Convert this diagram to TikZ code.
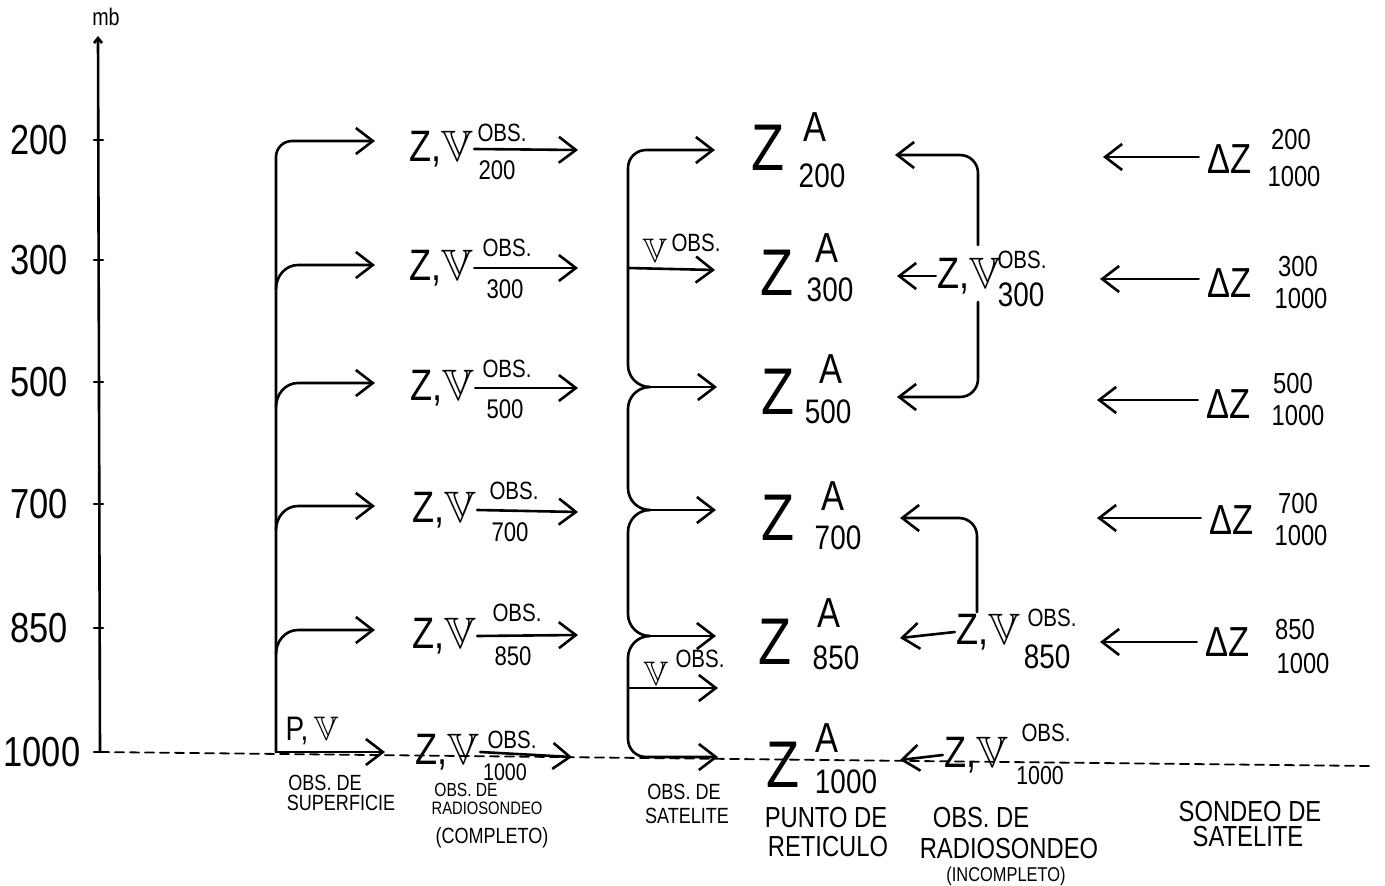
\documentclass[tikz,border=0pt]{standalone}
\usepackage{amssymb}
\usepackage{fontspec}
\setmainfont{Liberation Sans}[FakeStretch=0.82]
\usetikzlibrary{arrows.meta}
\newcommand\fs[1]{\fontsize{#1}{#1}\selectfont}
\newcommand\VV{$\mathbb{V}$}
\begin{document}
\begin{tikzpicture}[x=1pt,y=-1pt,line width=2.6pt,line cap=round,line join=round,
  >={Straight Barb[length=17pt,width=26pt]},
  t/.style={inner sep=0pt,anchor=center},
  axl/.style={t,font=\fs{42}},
  zv/.style={t,font=\fs{44}},
  obs/.style={t,font=\fs{25}},
  sub/.style={t,font=\fs{27}},
  bigz/.style={t,font=\fs{66}},
  supa/.style={t,font=\fs{42}},
  subn/.style={t,font=\fs{34}},
  dz/.style={t,font=\fs{42}},
  dzn/.style={t,font=\fs{29}},
  captxt/.style={t,font=\fs{22}},
  capbig/.style={t,font=\fs{29}}]
\useasboundingbox (0,0) rectangle (1385,886);

% ---------- axis ----------
\node[t,font=\fs{24}] (mb) at (106,17) {mb};
\coordinate (axtop) at (98,36);
\coordinate (axbot) at (100,752);
\draw[-{Straight Barb[length=5pt,width=8pt]}] (axbot) -- (axtop);
\foreach \yy in {140,260,382,504,628,752} \draw (94,\yy) -- (103,\yy);
\node[axl] (l200) at (39,140) {200};
\node[axl] (l300) at (39,260) {300};
\node[axl] (l500) at (39,382) {500};
\node[axl] (l700) at (39,504) {700};
\node[axl] (l850) at (39,628) {850};
\node[axl] (l1000) at (42,752) {1000};

% ---------- 1000 mb dashed line ----------
\coordinate (dashend) at (1370,766);
\draw[line width=1.8pt,dash pattern=on 9pt off 6pt] (axbot) -- (dashend);

% ---------- surface observations ----------
\coordinate (s200) at (375,141);
\coordinate (s300) at (375,265);
\coordinate (s500) at (375,383);
\coordinate (s700) at (375,506);
\coordinate (s850) at (375,630);
\coordinate (s1000) at (385,752);
\coordinate (sbot) at (276,752);
\draw[->,rounded corners=16pt] (sbot) -- (276,141) -- (s200);
\draw[->] (sbot) -- (s1000);
\foreach \c/\yy in {s300/265,s500/383,s700/506,s850/630}
  \draw[->] (276,\yy+24) to[out=90,in=180] (298,\yy) -- (\c);
\node[t,font=\fs{34}] (pv) at (312,731) {P,\,\VV};
\node[captxt] (cs1) at (325,783) {OBS. DE};
\node[captxt] (cs2) at (341,803) {SUPERFICIE};

% ---------- complete radiosonde ----------
\node[zv] (zv200) at (441,149) {Z,\VV};
\node[obs] (ob200) at (502,133) {OBS.};
\node[sub] (n200) at (497,170) {200};
\coordinate (r200) at (578,150);
\draw[->] (zv200.east) -- (r200);

\node[zv] (zv300) at (441,268) {Z,\VV};
\node[obs] (ob300) at (507,248) {OBS.};
\node[sub] (n300) at (505,289) {300};
\coordinate (r300) at (578,268);
\draw[->] (zv300.east) -- (r300);

\node[zv] (zv500) at (442,388) {Z,\VV};
\node[obs] (ob500) at (507,369) {OBS.};
\node[sub] (n500) at (505,409) {500};
\coordinate (r500) at (578,388);
\draw[->] (zv500.east) -- (r500);

\node[zv] (zv700) at (444,510) {Z,\VV};
\node[obs] (ob700) at (514,491) {OBS.};
\node[sub] (n700) at (510,532) {700};
\coordinate (r700) at (578,512);
\draw[->] (zv700.east) -- (r700);

\node[zv] (zv850) at (444,636) {Z,\VV};
\node[obs] (ob850) at (517,613) {OBS.};
\node[sub] (n850) at (513,656) {850};
\coordinate (r850) at (578,635);
\draw[->] (zv850.east) -- (r850);

\node[zv] (zv1000) at (447,752) {Z,\VV};
\node[obs] (ob1000) at (512,740) {OBS.};
\node[t,font=\fs{24}] (n1000) at (505,772) {1000};
\coordinate (r1000) at (572,757);
\draw[->] (zv1000.east) -- (r1000);
\node[t,font=\fs{19}] (cr1) at (466,790) {OBS. DE};
\node[t,font=\fs{18}] (cr2) at (487,808) {RADIOSONDEO};
\node[t,font=\fs{22}] (cr3) at (492,838) {(COMPLETO)};

% ---------- satellite observations ----------
\coordinate (a200) at (715,150);
\coordinate (a300) at (715,270);
\coordinate (a500) at (717,387);
\coordinate (a700) at (716,510);
\coordinate (a850) at (716,636);
\coordinate (a900) at (718,688);
\coordinate (a1000) at (718,757);
\coordinate (k500) at (650,387);
\coordinate (k700) at (650,510);
\coordinate (k850) at (650,636);
\draw[->,rounded corners=18pt] (628,365) -- (628,150) -- (a200);
\draw (628,365) to[out=-90,in=180] (k500);
\draw[->] (k500) -- (a500);
\draw (k500) to[out=180,in=90] (628,409) -- (628,488) to[out=-90,in=180] (k700);
\draw[->] (k700) -- (a700);
\draw (k700) to[out=180,in=90] (628,532) -- (628,614) to[out=-90,in=180] (k850);
\draw[->] (k850) -- (a850);
\draw (k850) to[out=180,in=90] (628,658);
\draw[->,rounded corners=18pt] (628,658) -- (628,757) -- (a1000);
\draw[->] (628,268) -- (a300);
\draw[->] (628,688) -- (a900);
\node[t,font=\fs{34}] (sv300) at (655,251) {\VV};
\node[obs] (so300) at (696,243) {OBS.};
\node[t,font=\fs{34}] (sv900) at (656,674) {\VV};
\node[obs] (so900) at (700,659) {OBS.};
\node[captxt] (csa1) at (684,792) {OBS. DE};
\node[captxt] (csa2) at (687,816) {SATELITE};

% ---------- grid point values ----------
\node[bigz] (z200) at (768,148) {Z};
\node[supa] (A200) at (815,127) {A};
\node[subn] (g200) at (822,176) {200};
\node[bigz] (z300) at (777,273) {Z};
\node[supa] (A300) at (827,248) {A};
\node[subn] (g300) at (830,290) {300};
\node[bigz] (z500) at (778,392) {Z};
\node[supa] (A500) at (831,369) {A};
\node[subn] (g500) at (828,412) {500};
\node[bigz] (z700) at (778,518) {Z};
\node[supa] (A700) at (833,496) {A};
\node[subn] (g700) at (838,538) {700};
\node[bigz] (z850) at (775,642) {Z};
\node[supa] (A850) at (829,613) {A};
\node[subn] (g850) at (836,658) {850};
\node[bigz] (z1000) at (783,765) {Z};
\node[supa] (A1000) at (827,738) {A};
\node[subn] (g1000) at (846,782) {1000};
\node[capbig] (cp1) at (826,818) {PUNTO DE};
\node[capbig] (cp2) at (828,847) {RETICULO};

% ---------- incomplete radiosonde ----------
\coordinate (b200) at (895,155);
\coordinate (b300) at (897,276);
\coordinate (b500) at (897,397);
\coordinate (b700) at (900,518);
\coordinate (b850) at (900,638);
\coordinate (b1000) at (900,760);
\draw[->,rounded corners=18pt] (978,245) -- (978,155) -- (b200);
\draw[->,rounded corners=18pt] (978,302) -- (978,397) -- (b500);
\draw[->,rounded corners=18pt] (977,612) -- (977,518) -- (b700);
\node[zv] (zi300) at (969,276) {Z,\VV};
\node[obs] (oi300) at (1022,260) {OBS.};
\node[subn] (ni300) at (1021,295) {300};
\draw[->] (zi300.west) -- (b300);
\node[zv] (zi850) at (988,632) {Z,\VV};
\node[obs] (oi850) at (1052,618) {OBS.};
\node[subn] (ni850) at (1047,657) {850};
\draw[->] (zi850.west) -- (b850);
\node[zv] (zi1000) at (976,755) {Z,\VV};
\node[obs] (oi1000) at (1046,733) {OBS.};
\node[t,font=\fs{26}] (ni1000) at (1040,776) {1000};
\draw[->] (zi1000.west) -- (b1000);
\node[capbig] (ci1) at (981,818) {OBS. DE};
\node[capbig] (ci2) at (1009,849) {RADIOSONDEO};
\node[t,font=\fs{20}] (ci3) at (1006,876) {(INCOMPLETO)};

% ---------- satellite soundings ----------
\node[dz] (dz200) at (1230,159) {ΔZ};
\node[dzn] (du200) at (1291,140) {200};
\node[dzn] (dl200) at (1294,177) {1000};
\coordinate (d200) at (1103,157);
\draw[->,shorten <=8pt] (d200 -| dz200.west) -- (d200);
\node[dz] (dz300) at (1230,283) {ΔZ};
\node[dzn] (du300) at (1298,267) {300};
\node[dzn] (dl300) at (1301,299) {1000};
\coordinate (d300) at (1100,279);
\draw[->,shorten <=8pt] (d300 -| dz300.west) -- (d300);
\node[dz] (dz500) at (1229,404) {ΔZ};
\node[dzn] (du500) at (1293,384) {500};
\node[dzn] (dl500) at (1298,416) {1000};
\coordinate (d500) at (1097,400);
\draw[->,shorten <=8pt] (d500 -| dz500.west) -- (d500);
\node[dz] (dz700) at (1232,520) {ΔZ};
\node[dzn] (du700) at (1298,504) {700};
\node[dzn] (dl700) at (1301,536) {1000};
\coordinate (d700) at (1097,518);
\draw[->,shorten <=8pt] (d700 -| dz700.west) -- (d700);
\node[dz] (dz850) at (1228,642) {ΔZ};
\node[dzn] (du850) at (1295,630) {850};
\node[dzn] (dl850) at (1303,664) {1000};
\coordinate (d850) at (1100,642);
\draw[->,shorten <=8pt] (d850 -| dz850.west) -- (d850);
\node[capbig] (cd1) at (1250,812) {SONDEO DE};
\node[capbig] (cd2) at (1248,837) {SATELITE};
\end{tikzpicture}
\end{document}
